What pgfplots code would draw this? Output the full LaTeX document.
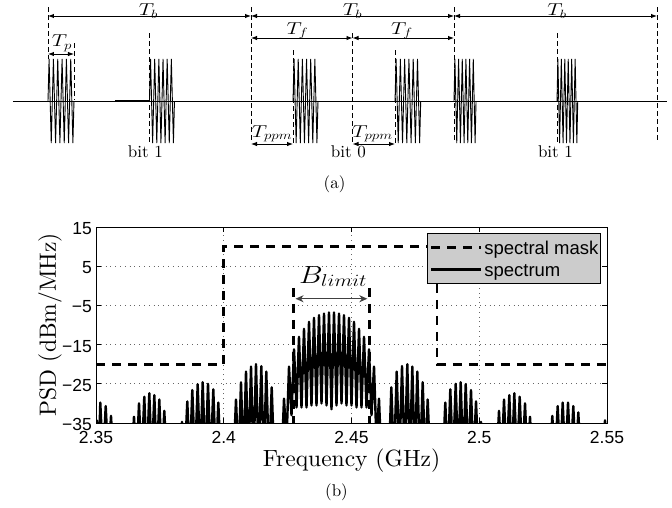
\documentclass[border=0pt]{standalone}
\usepackage{fontspec}
\newfontfamily\sans{Liberation Sans}
\newfontfamily\lmten{lmroman10-regular.otf}
\usepackage{pgfplots}
\usepackage{pgfplotstable}
\pgfplotsset{compat=1.18}
\usetikzlibrary{arrows.meta}
\definecolor{legendgray}{RGB}{204,204,204}

% one RF pulse, u in [0,1] of the pulse width
\pgfplotstableread{
u y
0 0
0.0417 1
0.125 -1
0.2083 1
0.2917 -1
0.375 1
0.4583 -1
0.5417 1
0.625 -1
0.7083 1
0.7917 -1
0.875 1
0.9583 -1
1 0
}\pulse

% PSD comb, GHz vs dBm/MHz
\pgfplotstableread{
f psd
2.3494 -45
2.35039 -34.4
2.35103 -45
2.35168 -29.8
2.35274 -45
2.35380 -30.7
2.35483 -45
2.35587 -33.2
2.35685 -45
2.36389 -45
2.36487 -33.4
2.36585 -45
2.36683 -30.0
2.36786 -45
2.36890 -28.3
2.36988 -45
2.37086 -27.4
2.37184 -45
2.37282 -27.9
2.37380 -45
2.37477 -29.0
2.37575 -45
2.37673 -31.9
2.37771 -45
2.38268 -45
2.38366 -34.7
2.38470 -45
2.38573 -29.5
2.38671 -45
2.38769 -26.6
2.38874 -45
2.38980 -25.1
2.39078 -45
2.39176 -24.6
2.39280 -45
2.39384 -25.0
2.39487 -45
2.39591 -26.4
2.39689 -45
2.39787 -29.8
2.39885 -45
2.40381 -45
2.40479 -29.0
2.40577 -45
2.40675 -24.6
2.40773 -45
2.40871 -21.9
2.40969 -45
2.41067 -20.6
2.41164 -45
2.41262 -20.0
2.41366 -45
2.41470 -20.5
2.41567 -45
2.41665 -21.9
2.41771 -45
2.41877 -25.9
2.41975 -45
2.42260 -45
2.42358 -28.8
2.42456 -40
2.42554 -20.6
2.42652 -33
2.42750 -16.2
2.42848 -31
2.42945 -13.0
2.43043 -31
2.43141 -11.0
2.43239 -31
2.43337 -9.2
2.43434 -30.5
2.43532 -8.2
2.43630 -30.5
2.43728 -7.5
2.43826 -30
2.43924 -7.1
2.44022 -30.5
2.44119 -6.8
2.44217 -31.5
2.44315 -6.8
2.44413 -30.5
2.44511 -7.1
2.44609 -30
2.44706 -7.5
2.44804 -30.5
2.44902 -8.2
2.45000 -30.5
2.45098 -9.2
2.45196 -31
2.45294 -11.0
2.45391 -31
2.45489 -13.0
2.45587 -31
2.45685 -16.2
2.45783 -33
2.45881 -20.6
2.45978 -40
2.46076 -28.8
2.46174 -45
2.46460 -45
2.46558 -25.9
2.46664 -45
2.46769 -21.9
2.46873 -45
2.46977 -20.5
2.47081 -45
2.47184 -20.0
2.47282 -45
2.47380 -20.6
2.47478 -45
2.47575 -21.9
2.47681 -45
2.47787 -24.6
2.47884 -45
2.47982 -29.0
2.48080 -45
2.48573 -45
2.48671 -29.8
2.48769 -45
2.48867 -26.4
2.48972 -45
2.49078 -25.0
2.49176 -45
2.49274 -24.6
2.49372 -45
2.49470 -25.1
2.49573 -45
2.49677 -26.6
2.49775 -45
2.49873 -29.5
2.49970 -45
2.50068 -34.7
2.50166 -45
2.50675 -45
2.50773 -31.9
2.50871 -45
2.50969 -29.0
2.51072 -45
2.51176 -27.9
2.51274 -45
2.51372 -27.4
2.51477 -45
2.51583 -28.3
2.51687 -45
2.51791 -30.0
2.51888 -45
2.51986 -33.4
2.52084 -45
2.52761 -45
2.52859 -33.2
2.52964 -45
2.53070 -30.7
2.53168 -45
2.53266 -29.8
2.53370 -45
2.53474 -29.8
2.53577 -45
2.53681 -30.7
2.53779 -45
2.53877 -32.3
2.53975 -45
2.54824 -45
2.54922 -34.3
2.55020 -45
}\spec

\newcommand\mfont{\fontsize{17bp}{20bp}\selectfont}
\newcommand\bfont{\lmten\fontsize{17bp}{20bp}\selectfont}
\newcommand\lfont{\lmten\fontsize{23.5bp}{27bp}\selectfont}
\newcommand\ml[1]{\scalebox{1.25}[1]{$#1$}}

\tikzset{
  dsh/.style={black, line width=0.9bp, dash pattern=on 5bp off 3bp},
  arr/.style={black, line width=0.9bp, {Latex[length=6bp,width=4.5bp]}-{Latex[length=6bp,width=4.5bp]}},
  mask/.style={black, line width=2.6bp, dash pattern=on 9bp off 7bp},
  pls/.style={black, line width=0.9bp},
}

\begin{document}
\begin{tikzpicture}
\useasboundingbox (0,0) rectangle (672bp,-508bp);

% (a) pulse train, x in units of T_f
\begin{axis}[
  at={(0bp,-190bp)}, anchor=south west,
  scale only axis, width=672bp, height=190bp,
  xmin=-0.4729, xmax=6.1478, ymin=-2.119, ymax=2.405,
  hide axis, clip=false,
]
\addplot[black, line width=0.9bp] coordinates {(-0.345,0) (6.099,0)};
\addplot[black, line width=1.6bp] coordinates {(0.66,0) (1.0,0)};
\addplot[pls] table[x expr=0+0.256*\thisrow{u}, y=y] {\pulse};
\addplot[pls] table[x expr=1.0+0.246*\thisrow{u}, y=y] {\pulse};
\addplot[pls] table[x expr=2.414+0.246*\thisrow{u}, y=y] {\pulse};
\addplot[pls] table[x expr=3.419+0.253*\thisrow{u}, y=y] {\pulse};
\addplot[pls] table[x expr=4.0+0.217*\thisrow{u}, y=y] {\pulse};
\addplot[pls] table[x expr=5.015+0.204*\thisrow{u}, y=y] {\pulse};

\draw[dsh] (axis cs:0,2.238) -- (axis cs:0,1.0);
\draw[dsh] (axis cs:0.256,1.381) -- (axis cs:0.256,0.024);
\draw[dsh] (axis cs:1,1.619) -- (axis cs:1,-1);
\draw[dsh] (axis cs:2,2.238) -- (axis cs:2,-1);
\draw[dsh] (axis cs:2.414,1.214) -- (axis cs:2.414,-1);
\draw[dsh] (axis cs:3,1.619) -- (axis cs:3,-1);
\draw[dsh] (axis cs:3.419,1.214) -- (axis cs:3.419,-1);
\draw[dsh] (axis cs:4,2.238) -- (axis cs:4,-1);
\draw[dsh] (axis cs:5.015,1.619) -- (axis cs:5.015,-1);
\draw[dsh] (axis cs:6,2.238) -- (axis cs:6,-1);

\draw[arr] (axis cs:0,2.024) -- (axis cs:2,2.024);
\draw[arr] (axis cs:2,2.024) -- (axis cs:4,2.024);
\draw[arr] (axis cs:4,2.024) -- (axis cs:6,2.024);
\draw[arr] (axis cs:2,1.5) -- (axis cs:3,1.5);
\draw[arr] (axis cs:3,1.5) -- (axis cs:4,1.5);
\draw[arr] (axis cs:0,1.119) -- (axis cs:0.256,1.119);
\draw[arr] (axis cs:2,-1.024) -- (axis cs:2.414,-1.024);
\draw[arr] (axis cs:3,-1.024) -- (axis cs:3.419,-1.024);

\node[anchor=base, font=\mfont, inner sep=0pt] at (axis cs:0.99,2.03) {\ml{T_b}};
\node[anchor=base, font=\mfont, inner sep=0pt] at (axis cs:3.0,2.03) {\ml{T_b}};
\node[anchor=base, font=\mfont, inner sep=0pt] at (axis cs:5.015,2.03) {\ml{T_b}};
\node[anchor=base, font=\mfont, inner sep=0pt] at (axis cs:2.458,1.595) {\ml{T_f}};
\node[anchor=base, font=\mfont, inner sep=0pt] at (axis cs:3.488,1.595) {\ml{T_f}};
\node[anchor=base, font=\mfont, inner sep=0pt] at (axis cs:0.138,1.293) {\ml{T_p}};
\node[anchor=base, font=\mfont, inner sep=0pt] at (axis cs:2.207,-0.857) {\ml{T_{ppm}}};
\node[anchor=base, font=\mfont, inner sep=0pt] at (axis cs:3.197,-0.857) {\ml{T_{ppm}}};
\node[anchor=base, font=\bfont, inner sep=0pt] at (axis cs:0.96,-1.357) {bit 1};
\node[anchor=base, font=\bfont, inner sep=0pt] at (axis cs:2.96,-1.357) {bit 0};
\node[anchor=base, font=\bfont, inner sep=0pt] at (axis cs:5.0,-1.357) {bit 1};
\end{axis}

% (b) power spectral density
\begin{axis}[
  at={(96bp,-423bp)}, anchor=south west,
  scale only axis, width=511bp, height=196bp,
  xmin=2.35, xmax=2.55, ymin=-35, ymax=15,
  xtick={2.35,2.4,2.45,2.5,2.55},
  xticklabels={2.35,2.4,2.45,2.5,2.55},
  ytick={-35,-25,-15,-5,5,15},
  yticklabels={−35,−25,−15,−5,5,15},
  xtick pos=both, ytick pos=both, tick align=inside,
  major tick length=5bp,
  every tick/.append style={black, line width=0.8bp},
  axis line style={line width=0.8bp},
  tick label style={font=\sans\fontsize{17.5bp}{20bp}\selectfont, inner sep=0pt},
  xticklabel style={anchor=north, yshift=-8.5bp},
  yticklabel style={anchor=east, xshift=-4bp, yshift=-1.5bp},
  grid=major,
  major grid style={black!60, line width=0.7bp, dash pattern=on 0.8bp off 4bp},
  every axis x label/.style={at={(axis description cs:0.5,0)}, anchor=base, inner sep=0pt, yshift=-43bp, font=\lfont},
  every axis y label/.style={at={(axis description cs:0,0.5)}, anchor=base, inner sep=0pt, xshift=-40bp, rotate=90, font=\lfont},
  xlabel={Frequency (GHz)},
  ylabel={PSD (dBm/MHz)},
  legend cell align=left,
  legend image code/.code={\draw[#1] (0bp,0bp) -- (50bp,0bp);},
  legend style={at={(0.9877,0.969)}, anchor=north east, fill=legendgray,
    draw=black, line width=0.8bp, inner xsep=2bp, inner ysep=4bp, row sep=2bp,
    font=\sans\fontsize{18.5bp}{20bp}\selectfont,
    nodes={inner sep=0pt, text height=17bp, text depth=3bp}},
]
\addplot[mask] coordinates {(2.35,-20) (2.4,-20) (2.4,10) (2.4835,10) (2.4835,-20) (2.55,-20)};
\addlegendentry{\makebox[116bp][l]{\hspace{2bp}spectral mask}}
\addplot[black, line width=2.4bp, line join=round] table[x=f, y=psd] {\spec};
\addlegendentry{\makebox[116bp][l]{\hspace{2bp}spectrum}}
\addplot[mask, forget plot] coordinates {(2.4272,-0.5) (2.4272,-35)};
\addplot[mask, forget plot] coordinates {(2.4570,-0.5) (2.4570,-35)};
\draw[black!75, line width=1.2bp, {Stealth[length=8bp,width=7bp,inset=2.5bp]}-{Stealth[length=8bp,width=7bp,inset=2.5bp]}]
  (axis cs:2.4281,-3.3) -- (axis cs:2.4562,-3.3);
\node[anchor=base, inner sep=0pt, font=\fontsize{23bp}{26bp}\selectfont] at (axis cs:2.4428,0.71) {\scalebox{1.2}[1]{$B_{limit}$}};
\end{axis}

\node[anchor=base, font=\lmten\fontsize{17bp}{20bp}\selectfont] at (334.5bp,-188bp) {(a)};
\node[anchor=base, font=\lmten\fontsize{17bp}{20bp}\selectfont] at (336.5bp,-496bp) {(b)};
\end{tikzpicture}
\end{document}
